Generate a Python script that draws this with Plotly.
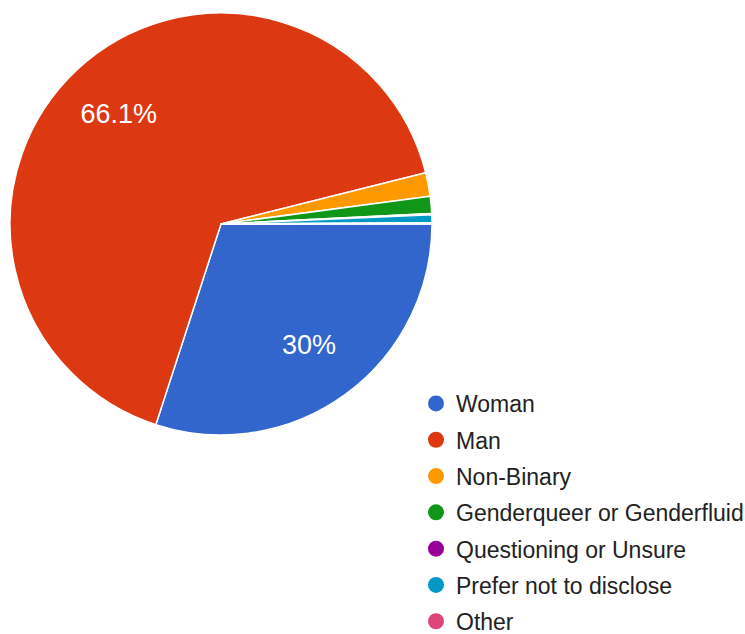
import plotly.graph_objects as go

labels = ["Woman", "Man", "Non-Binary", "Genderqueer or Genderfluid",
          "Questioning or Unsure", "Prefer not to disclose", "Other"]
values = [30.0, 66.1, 1.8, 1.3, 0.1, 0.6, 0.1]
slice_text = ["30%", "66.1%", "", "", "", "", ""]
colors = ["#3366cc", "#dc3912", "#ff9900", "#109618", "#990099", "#0099c6", "#dd4477"]

pie_domain = dict(x=[10/745, 432/745], y=[1-435/634, 1-13/634])

fig = go.Figure()
# the pie slices
fig.add_trace(go.Pie(
    labels=labels, values=values,
    textinfo="none",
    marker=dict(colors=colors, line=dict(color="white", width=1.5)),
    sort=False, direction="clockwise", rotation=90,
    showlegend=False, hoverinfo="label+percent",
    domain=pie_domain,
))
# transparent ring carrying the percentage labels at ~0.7 of the radius
fig.add_trace(go.Pie(
    labels=labels, values=values, text=slice_text, hole=0.42,
    textinfo="text", textposition="inside", insidetextorientation="horizontal",
    textfont=dict(color="white", size=27, family="Liberation Sans, Arial, sans-serif"),
    marker=dict(colors=["rgba(0,0,0,0)"] * len(labels), line=dict(width=0)),
    sort=False, direction="clockwise", rotation=90,
    showlegend=False, hoverinfo="skip",
    domain=pie_domain,
))
for i, (lab, col) in enumerate(zip(labels, colors)):
    fig.add_trace(go.Scatter(
        x=[None], y=[None], mode="markers", name=lab,
        marker=dict(color=col, size=16, symbol="circle"),
        legendgroup=f"g{i}", showlegend=True,
    ))

fig.update_layout(
    width=745, height=634,
    margin=dict(l=0, r=0, t=0, b=0, autoexpand=False),
    paper_bgcolor="white", plot_bgcolor="white",
    xaxis=dict(visible=False), yaxis=dict(visible=False),
    legend=dict(
        x=416/745, y=1-382/634, xanchor="left", yanchor="top",
        font=dict(size=23, color="#222222", family="Liberation Sans, Arial, sans-serif"),
        tracegroupgap=3.4, traceorder="grouped", itemsizing="trace",
        bgcolor="rgba(0,0,0,0)",
    ),
    showlegend=True,
)
fig.write_html("out.html")
